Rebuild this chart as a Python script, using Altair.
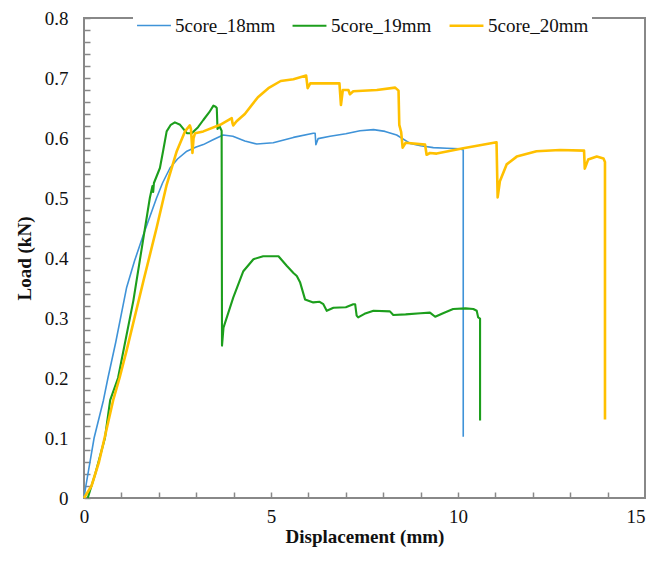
import altair as alt
import pandas as pd

series = ["5core_18mm", "5core_19mm", "5core_20mm"]
colors = ["#3f93d8", "#1c9e1c", "#ffc000"]
widths = [1.6, 2.6, 2.6]

x18 = [0, 0.05, 0.27, 0.52, 0.64, 0.85, 1.14, 1.35, 1.59, 1.94, 2.1, 2.3, 2.5, 2.75, 3.0, 3.19,
       3.45, 3.72, 3.98, 4.3, 4.62, 5.06, 5.6, 6.13, 6.18, 6.2, 6.26, 6.58, 7.0, 7.38, 7.74, 8.05,
       8.36, 8.72, 9.0, 9.34, 9.7, 10.05, 10.14, 10.14]
y18 = [0, 0.02, 0.1, 0.163, 0.2, 0.26, 0.351, 0.395, 0.439, 0.5, 0.525, 0.55, 0.565, 0.578, 0.585,
       0.589, 0.597, 0.605, 0.603, 0.595, 0.59, 0.592, 0.601, 0.608, 0.608, 0.589, 0.599, 0.603,
       0.607, 0.612, 0.614, 0.611, 0.605, 0.591, 0.587, 0.584, 0.583, 0.582, 0.58, 0.102]

x19 = [0.1, 0.3, 0.56, 0.70, 0.91, 1.32, 1.76, 1.83, 1.85, 1.87, 2.03, 2.12, 2.21, 2.32, 2.43,
       2.57, 2.75, 2.88, 3.05, 3.19, 3.35, 3.46, 3.52, 3.55, 3.57, 3.62, 3.68, 3.69, 3.73, 3.99,
       4.26, 4.53, 4.79, 5.2, 5.42, 5.6, 5.69, 5.78, 5.91, 6.13, 6.3, 6.4, 6.49, 6.67, 7.0, 7.2,
       7.25, 7.29, 7.33, 7.5, 7.74, 8.18, 8.27, 8.6, 9.0, 9.25, 9.39, 9.6, 9.87, 10.2, 10.41,
       10.5, 10.54, 10.59, 10.59]
y19 = [0, 0.04, 0.1, 0.163, 0.2, 0.329, 0.5, 0.52, 0.51, 0.525, 0.55, 0.58, 0.611, 0.622, 0.626,
       0.622, 0.608, 0.608, 0.618, 0.630, 0.643, 0.654, 0.652, 0.65, 0.615, 0.62, 0.612, 0.254,
       0.284, 0.334, 0.378, 0.398, 0.403, 0.403, 0.387, 0.375, 0.37, 0.359, 0.331, 0.326, 0.327,
       0.323, 0.312, 0.317, 0.318, 0.323, 0.323, 0.304, 0.301, 0.307, 0.312, 0.311, 0.305, 0.306,
       0.308, 0.309, 0.302, 0.308, 0.315, 0.316, 0.315, 0.312, 0.301, 0.299, 0.129]

x20 = [0, 0.2, 0.4, 0.55, 0.78, 0.95, 1.14, 1.59, 1.94, 2.21, 2.48, 2.70, 2.83, 2.86, 2.9, 2.93,
       2.97, 3.19, 3.64, 3.95, 3.97, 3.99, 4.08, 4.3, 4.65, 4.93, 5.26, 5.6, 5.94, 5.98, 6.05,
       6.45, 6.83, 6.87, 6.92, 7.07, 7.11, 7.2, 7.83, 8.32, 8.41, 8.43, 8.48, 8.52, 8.6, 9.12,
       9.16, 9.25, 9.43, 10.14, 11.03, 11.06, 11.12, 11.3, 11.57, 12.1, 12.73, 13.37, 13.39,
       13.48, 13.71, 13.89, 13.93, 13.93]
y20 = [0, 0.02, 0.06, 0.1, 0.163, 0.2, 0.246, 0.362, 0.45, 0.522, 0.578, 0.611, 0.621, 0.615,
       0.575, 0.6, 0.608, 0.611, 0.622, 0.633, 0.625, 0.621, 0.628, 0.64, 0.668, 0.683, 0.695,
       0.698, 0.704, 0.683, 0.691, 0.691, 0.691, 0.655, 0.68, 0.68, 0.673, 0.678, 0.680, 0.684,
       0.679, 0.622, 0.61, 0.584, 0.592, 0.589, 0.572, 0.575, 0.574, 0.583, 0.593, 0.501, 0.528,
       0.556, 0.569, 0.578, 0.580, 0.579, 0.549, 0.564, 0.569, 0.566, 0.56, 0.131]

x_labels = [0, 5, 10, 15]
y_labels = [0, 0.1, 0.2, 0.3, 0.4, 0.5, 0.6, 0.7, 0.8]
x_ticks = list(range(0, 16))
y_ticks = [round(0.02 * k, 2) for k in range(41)]

rows = []
for name, xs, ys in [(series[0], x18, y18), (series[1], x19, y19), (series[2], x20, y20)]:
    for i, (a, b) in enumerate(zip(xs, ys)):
        rows.append({"series": name, "disp": a, "load": b, "i": i})
df = pd.DataFrame(rows)

W, H = 561, 480
GRAY = "#888888"
FONT = "Liberation Serif"
xscale = alt.Scale(domain=[0, 15], nice=False, zero=True)
yscale = alt.Scale(domain=[0, 0.8], nice=False, zero=True)

lines = alt.Chart(df).mark_line(strokeJoin="round").encode(
    x=alt.X("disp:Q", scale=xscale,
            axis=alt.Axis(values=x_labels, title="Displacement (mm)", ticks=False, domain=False,
                          grid=False, labelPadding=9, labelFontSize=19, titleFontSize=19,
                          labelFont=FONT, titleFont=FONT, labelFlush=False,
                          labelAlign={"expr": "datum.value == 15 ? 'right' : 'center'"},
                          titleFontWeight="bold", titlePadding=1, labelColor="#111", titleColor="#111")),
    y=alt.Y("load:Q", scale=yscale,
            axis=alt.Axis(values=y_labels, title="Load (kN)", ticks=False, domain=False, grid=False,
                          labelPadding=16, labelFontSize=19, titleFontSize=19, titleFontWeight="bold",
                          labelFont=FONT, titleFont=FONT, labelFlush=False,
                          titlePadding=10, labelColor="#111", titleColor="#111",
                          labelExpr="datum.value == 0 ? '0' : format(datum.value, '.1f')")),
    color=alt.Color("series:N", scale=alt.Scale(domain=series, range=colors),
                    legend=alt.Legend(title=None, orient="none", direction="horizontal",
                                      legendX=49, legendY=-14, fillColor="white", padding=3,
                                      symbolType="stroke", symbolSize=1150, symbolStrokeWidth=2,
                                      labelFont=FONT, labelFontSize=19, labelOffset=3, columnPadding=12,
                                      labelLimit=300, labelColor="#111")),
    strokeWidth=alt.StrokeWidth("series:N", scale=alt.Scale(domain=series, range=widths), legend=None),
    order="i:Q",
)

ticks = alt.Chart(df).mark_point(opacity=0).encode(
    x=alt.X("disp:Q", scale=xscale,
            axis=alt.Axis(orient="top", offset=-H, values=x_ticks, labels=False, domain=False,
                          tickSize=6, tickWidth=1.5, tickColor=GRAY, grid=False, title=None)),
    y=alt.Y("load:Q", scale=yscale,
            axis=alt.Axis(orient="right", offset=-W, values=y_ticks, labels=False, domain=False,
                          tickSize=6, tickWidth=1.5, tickColor=GRAY, grid=False, title=None)),
)

chart = alt.layer(lines, ticks).resolve_axis(x="independent", y="independent").properties(
    width=W, height=H,
    autosize=alt.AutoSizeParams(type="none"),
    padding={"left": 76, "top": 10, "right": 1, "bottom": 50},
).configure(font=FONT).configure_view(stroke=GRAY, strokeWidth=2)

chart.save("out.html", embed_options={"renderer": "svg", "actions": False})
